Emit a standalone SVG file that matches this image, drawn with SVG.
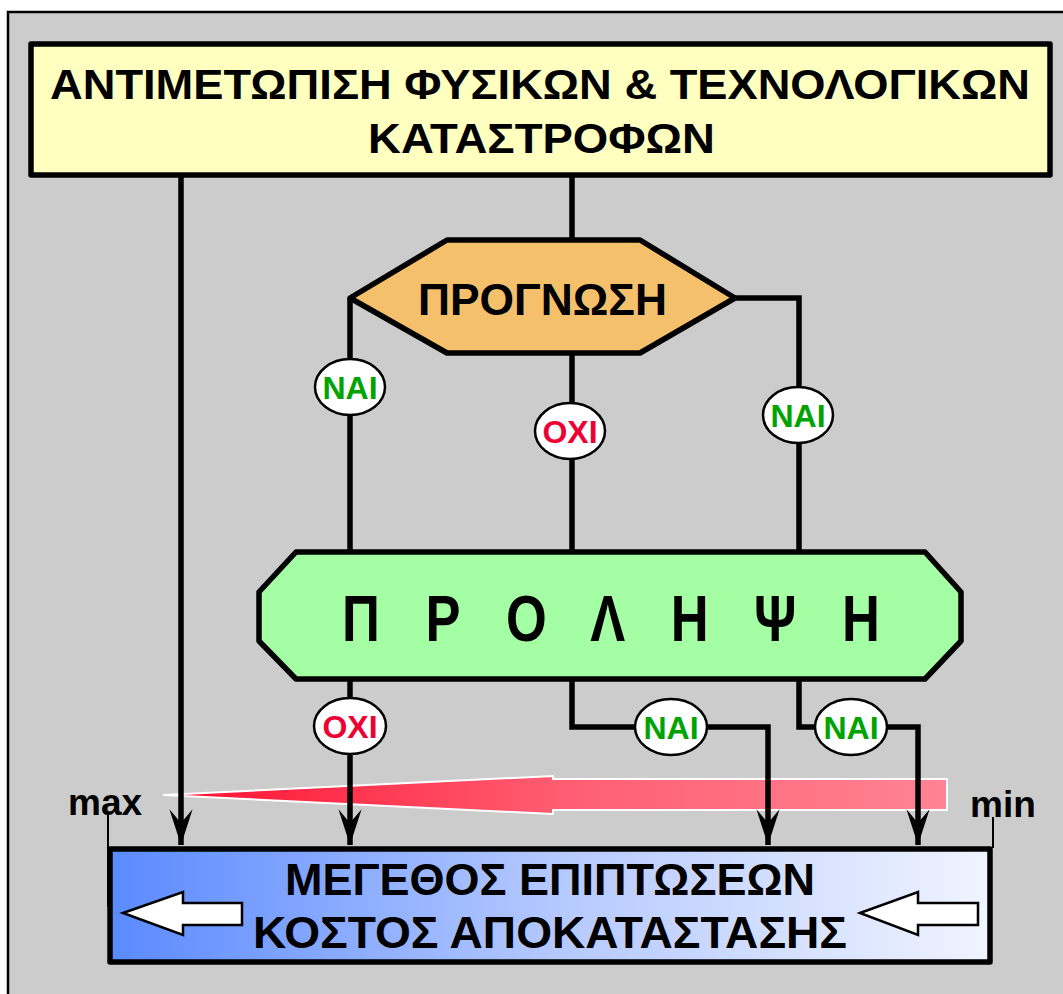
<svg xmlns="http://www.w3.org/2000/svg" width="1063" height="994" viewBox="0 0 1063 994">
<style>
  .t { font-family: "Liberation Sans", Arial, sans-serif; font-weight: bold; fill: #000; }
  .node { stroke: #000; stroke-width: 5.5; stroke-linejoin: round; }
  .conn { fill: none; stroke: #000; stroke-width: 5.5; stroke-linejoin: miter; }
  .lbl { fill: #fff; stroke: #000; stroke-width: 2.5; }
  .yes { font-family: "Liberation Sans", Arial, sans-serif; font-weight: bold; font-size: 32px; fill: #00a400; text-anchor: middle; }
  .no { font-family: "Liberation Sans", Arial, sans-serif; font-weight: bold; font-size: 32px; fill: #ee0033; text-anchor: middle; }
  .warr { fill: #fff; stroke: #000; stroke-width: 2.5; stroke-linejoin: miter; }
</style>
<defs>
  <linearGradient id="gBlue" x1="0" y1="0" x2="1" y2="0">
    <stop offset="0" stop-color="#5a8aff"/>
    <stop offset="0.5" stop-color="#b4c8ff"/>
    <stop offset="1" stop-color="#f0f4ff"/>
  </linearGradient>
  <linearGradient id="gRed" gradientUnits="userSpaceOnUse" x1="163" y1="0" x2="947" y2="0">
    <stop offset="0" stop-color="#ff1030"/>
    <stop offset="0.5" stop-color="#ff5c70"/>
    <stop offset="1" stop-color="#ff8494"/>
  </linearGradient>
  <marker id="arr" markerUnits="userSpaceOnUse" markerWidth="40" markerHeight="30" refX="0" refY="0" viewBox="-36 -13 38 26" orient="auto">
    <path d="M0,0 L-34,-11 L-21,0 L-34,11 Z" fill="#000"/>
  </marker>
</defs>

<rect x="8" y="12" width="1100" height="1100" fill="#cccccc" stroke="#000" stroke-width="2.5"/>

<g id="scale-arrow">
  <polygon points="163,795 553,776 553,779 947,779 947,810 553,810 553,814" fill="url(#gRed)" stroke="#fff" stroke-width="2"/>
  <text class="t" x="68" y="815" font-size="37">max</text>
  <text class="t" x="970" y="817" font-size="37">min</text>
  <line x1="108" y1="815" x2="108" y2="907" stroke="#000" stroke-width="2"/>
  <line x1="993" y1="817" x2="993" y2="848" stroke="#000" stroke-width="2"/>
</g>

<g id="connectors">
  <line class="conn" x1="181" y1="175" x2="181" y2="845" marker-end="url(#arr)"/>
  <line class="conn" x1="572" y1="175" x2="572" y2="242"/>
  <polyline class="conn" points="350,298 350,553"/>
  <polyline class="conn" points="735,298 799,298 799,553"/>
  <line class="conn" x1="572" y1="353" x2="572" y2="553"/>
  <line class="conn" x1="350" y1="678" x2="350" y2="845" marker-end="url(#arr)"/>
  <polyline class="conn" points="572,678 572,727 768,727 768,845" marker-end="url(#arr)"/>
  <polyline class="conn" points="799,678 799,727 918,727 918,845" marker-end="url(#arr)"/>
</g>

<g id="title">
  <rect class="node" x="31" y="44" width="1019" height="131" fill="#ffffc0"/>
  <text class="t" x="50" y="99" font-size="43" textLength="980" lengthAdjust="spacingAndGlyphs">ΑΝΤΙΜΕΤΩΠΙΣΗ ΦΥΣΙΚΩΝ &amp; ΤΕΧΝΟΛΟΓΙΚΩΝ</text>
  <text class="t" x="368" y="153" font-size="43" textLength="347" lengthAdjust="spacingAndGlyphs">ΚΑΤΑΣΤΡΟΦΩΝ</text>
</g>

<g id="prognosi">
  <polygon class="node" points="350,298 447,240 640,240 735,298 640,353 447,353" fill="#f5c06b"/>
  <text class="t" x="418" y="315" font-size="44" textLength="249" lengthAdjust="spacingAndGlyphs">ΠΡΟΓΝΩΣΗ</text>
</g>

<g id="prolipsi">
  <polygon class="node" points="296,552 925,552 961,592 961,641 925,679 296,679 259,641 259,592" fill="#a4ffa4"/>
  <text class="t" transform="translate(611,641) scale(0.82,1)" x="-328" y="0" font-size="64" textLength="656" lengthAdjust="spacing">Π Ρ Ο Λ Η Ψ Η</text>
</g>

<g id="label-nai-1">
  <ellipse class="lbl" cx="350" cy="387" rx="35" ry="28"/>
  <text class="yes" x="350" y="398.5">ΝΑΙ</text>
</g>
<g id="label-oxi-1">
  <ellipse class="lbl" cx="570" cy="431" rx="35" ry="28"/>
  <text class="no" x="570" y="442.5">ΟΧΙ</text>
</g>
<g id="label-nai-2">
  <ellipse class="lbl" cx="798" cy="415" rx="35" ry="28"/>
  <text class="yes" x="798" y="426.5">ΝΑΙ</text>
</g>
<g id="label-oxi-2">
  <ellipse class="lbl" cx="350" cy="726" rx="36" ry="28"/>
  <text class="no" x="350" y="737.5">ΟΧΙ</text>
</g>
<g id="label-nai-3">
  <ellipse class="lbl" cx="671" cy="727" rx="36" ry="28"/>
  <text class="yes" x="671" y="738.5">ΝΑΙ</text>
</g>
<g id="label-nai-4">
  <ellipse class="lbl" cx="851" cy="727" rx="36" ry="28"/>
  <text class="yes" x="851" y="738.5">ΝΑΙ</text>
</g>

<g id="impact">
  <rect class="node" x="110" y="849" width="880" height="113" fill="url(#gBlue)"/>
  <text class="t" x="285" y="895" font-size="44" textLength="530" lengthAdjust="spacingAndGlyphs">ΜΕΓΕΘΟΣ ΕΠΙΠΤΩΣΕΩΝ</text>
  <text class="t" x="253" y="948" font-size="44" textLength="594" lengthAdjust="spacingAndGlyphs">ΚΟΣΤΟΣ ΑΠΟΚΑΤΑΣΤΑΣΗΣ</text>
  <polygon class="warr" points="123,913 183,892 183,903 242,903 242,925 183,925 183,935"/>
  <polygon class="warr" points="860,913 918,892 918,903 978,903 978,925 918,925 918,935"/>
</g>
</svg>
